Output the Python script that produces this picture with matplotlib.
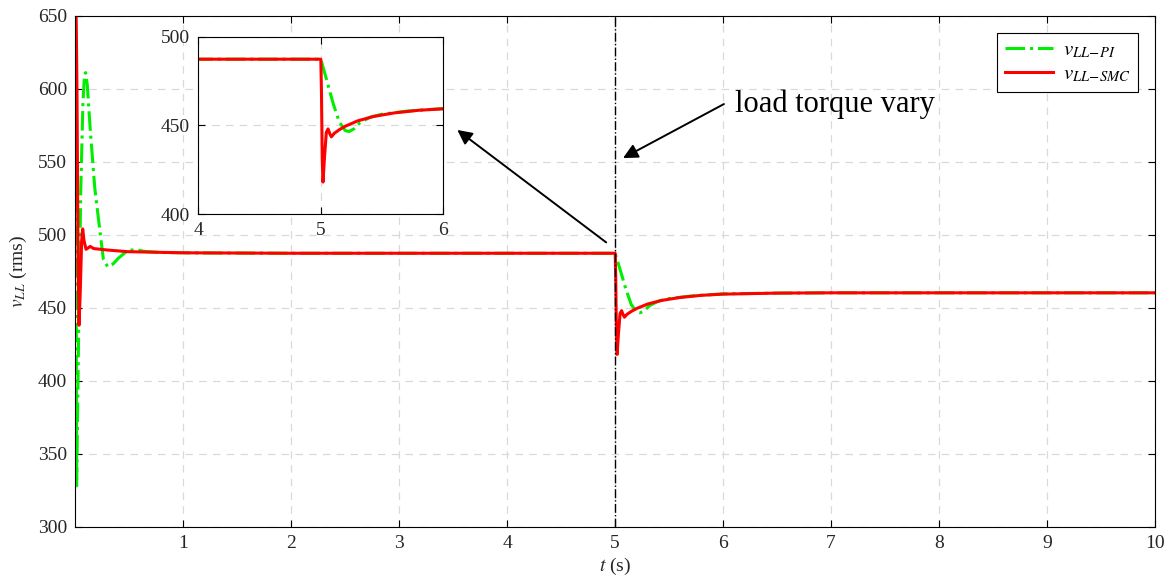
import matplotlib
matplotlib.use('Agg')
import matplotlib.pyplot as plt

plt.rcParams['font.family'] = ['Liberation Serif', 'DejaVu Serif']
plt.rcParams['mathtext.fontset'] = 'stix'

# datos (t en s, tension en V rms)
t_pi = [0, 0.012, 0.03, 0.05, 0.07, 0.085, 0.095, 0.11, 0.14, 0.18, 0.23, 0.26, 0.30, 0.35,
        0.40, 0.49, 0.57, 0.65, 0.8, 1.2, 2.0, 5.0,
        5.05, 5.1, 5.15, 5.2, 5.23, 5.27, 5.32, 5.4, 5.5, 5.7, 5.9, 6.0, 6.5, 7.0, 10.0]
v_pi = [680, 328, 430, 530, 590, 610, 611, 603, 570, 532, 501, 483, 478, 480,
        484, 489.5, 489.5, 488.5, 487.8, 487.5, 487.3, 487.3,
        475, 462.5, 452, 447, 446.5, 448, 451.5, 454.5, 456.3, 458, 459, 459.5, 460, 460.2, 460.2]

t_smc = [0, 0.015, 0.025, 0.034, 0.045, 0.058, 0.068, 0.08, 0.099, 0.12, 0.137, 0.17, 0.3,
         0.48, 1.0, 2.0, 5.0,
         5.005, 5.012, 5.018, 5.03, 5.045, 5.059, 5.075, 5.086, 5.11, 5.15, 5.2, 5.3,
         5.43, 5.6, 5.8, 6.0, 6.5, 7.0, 10.0]
v_smc = [700, 600, 480, 438, 460, 495, 504, 496, 490, 491, 492, 490.5, 489.5,
         488.4, 487.6, 487.3, 487.3,
         470, 430, 418, 432, 446, 448, 445, 443.5, 445.5, 447.5, 449.5, 452.5,
         455, 457, 458.5, 459.3, 460, 460.2, 460.2]

verde = '#00ee00'
rojo = '#ff0000'
gris = '#262626'

fig = plt.figure(figsize=(11.7, 5.82), dpi=100)
ax = fig.add_axes([0.0644, 0.095, 0.9228, 0.878])

ax.plot(t_pi, v_pi, color=verde, linestyle='-.', linewidth=2.2, label=r'$v_{LL\!-\!PI}$')
ax.plot(t_smc, v_smc, color=rojo, linestyle='-', linewidth=2.2, label=r'$v_{LL\!-\!SMC}$')
ax.axvline(5, color='black', linestyle='-.', linewidth=1.0)

ax.set_xlim(0, 10)
ax.set_ylim(300, 650)
ax.set_xticks(range(1, 11))
ax.set_yticks(range(300, 651, 50))
ax.tick_params(direction='in', top=True, right=True, labelsize=14, length=5,
               labelcolor=gris, pad=6)
ax.grid(True, linestyle=(0, (6, 5)), color='#d9d9d9', linewidth=0.9)
ax.set_xlabel(r'$t$ (s)', fontsize=14, labelpad=3, color=gris)
ax.set_ylabel(r'$v_{LL}$ (rms)', fontsize=14, labelpad=6, color=gris)

leg = ax.legend(loc='upper right', bbox_to_anchor=(0.9843, 0.9661), borderaxespad=0,
                fontsize=15, handlelength=2.3, handletextpad=0.5, labelspacing=0.25,
                fancybox=False, framealpha=1, edgecolor='black', borderpad=0.35)
leg.get_frame().set_linewidth(0.8)

# flechas y texto
ax.annotate('', xy=(5.05, 551.6), xytext=(6.03, 590.4),
            arrowprops=dict(arrowstyle='-|>', color='black', lw=1.4, mutation_scale=22))
ax.annotate('', xy=(3.517, 572.9), xytext=(4.937, 493.6),
            arrowprops=dict(arrowstyle='-|>', color='black', lw=1.4, mutation_scale=22))
ax.text(6.11, 584.2, 'load torque vary', fontsize=22, va='baseline', ha='left')

# grafica ampliada
axin = fig.add_axes([0.1695, 0.6323, 0.2094, 0.3047])
axin.plot(t_pi, v_pi, color=verde, linestyle='-.', linewidth=2.2)
axin.plot(t_smc, v_smc, color=rojo, linestyle='-', linewidth=2.2)
axin.set_xlim(4, 6)
axin.set_ylim(400, 500)
axin.set_xticks([4, 5, 6])
axin.set_yticks([400, 450, 500])
axin.tick_params(direction='in', top=True, right=True, labelsize=14, length=5,
                 labelcolor=gris, pad=6)
axin.grid(True, linestyle=(0, (6, 5)), color='#d9d9d9', linewidth=0.9)

fig.savefig('out.png', dpi=100)
